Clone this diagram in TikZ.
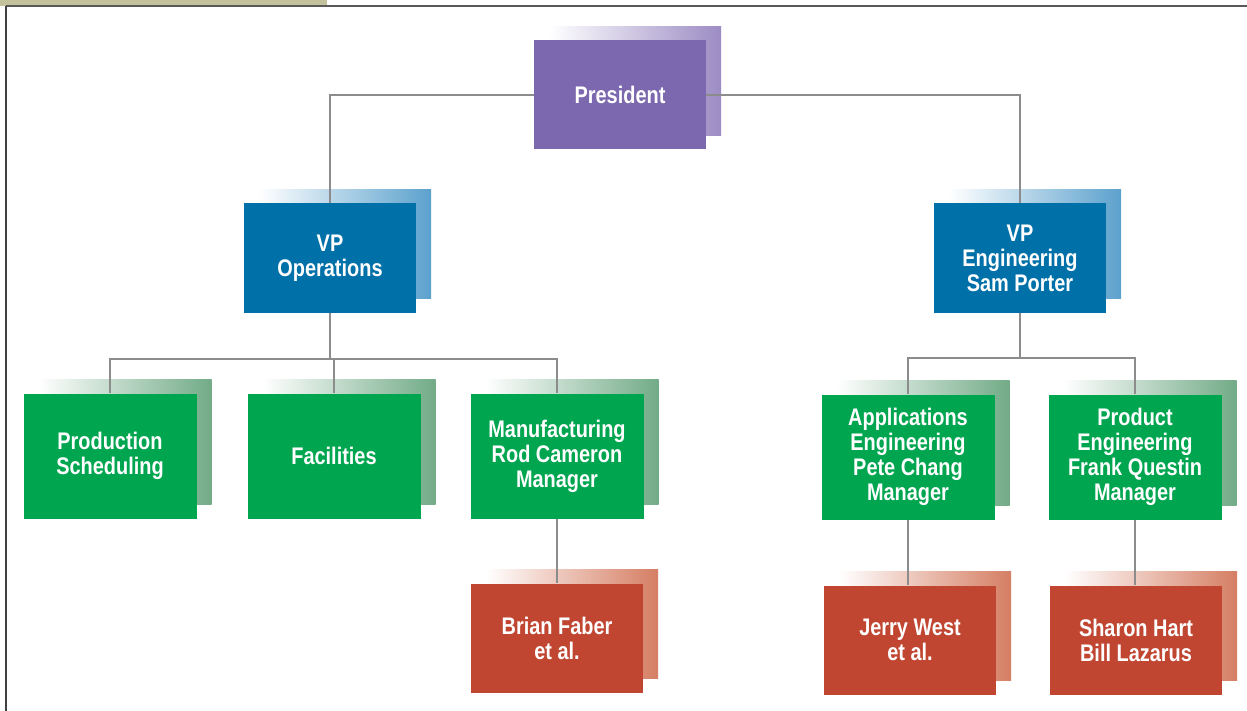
\documentclass[tikz,border=0pt]{standalone}
\usepackage{fontspec}
\newfontfamily\orgfont{Liberation Sans}[FakeStretch=0.83]
\usetikzlibrary{positioning, calc, backgrounds}
\definecolor{presfill}{HTML}{7B68AF}
\definecolor{presshade}{HTML}{9C8CC4}
\definecolor{vpfill}{HTML}{0070A8}
\definecolor{vpshade}{HTML}{5BA1CD}
\definecolor{deptfill}{HTML}{00A54F}
\definecolor{deptshade}{HTML}{72AB87}
\definecolor{staffill}{HTML}{C04632}
\definecolor{staffshade}{HTML}{D57E63}
\definecolor{linkgray}{HTML}{8C8C8C}
\definecolor{tabkhaki}{HTML}{C4C29C}

\begin{document}
\begin{tikzpicture}[x=1pt, y=-1pt,
  box/.style={rectangle, minimum width=172pt, minimum height=109pt, inner sep=0pt,
              align=center, text=white,
              font=\orgfont\bfseries\fontsize{24pt}{25pt}\selectfont},
  tall/.style={box, minimum width=173pt, minimum height=125pt},
  link/.style={draw=linkgray, line width=2.2pt}
]
  \useasboundingbox (0,0) rectangle (1247,711);

  % frame
  \fill[tabkhaki] (0,0) rectangle (327,6);
  \draw[gray!70!black, line width=2pt] (6,6) -- (1247,6);
  \draw[black!75, line width=1.5pt] (6,6) -- (6,711);

  % boxes
  \node[box, fill=presfill] (pres) at (620,95) {President};
  \node[box, fill=vpfill] (vpops) at (330,258) {VP\\Operations};
  \node[box, fill=vpfill] (vpeng) at (1020,258) {VP\\Engineering\\Sam Porter};
  \node[tall, fill=deptfill] (prod) at (110,456) {Production\\Scheduling};
  \node[tall, fill=deptfill] (fac)  at (334,456) {Facilities};
  \node[tall, fill=deptfill] (mfg)  at (557,456) {Manufacturing\\Rod Cameron\\Manager};
  \node[tall, fill=deptfill] (appl) at (908,457) {Applications\\Engineering\\Pete Chang\\Manager};
  \node[tall, fill=deptfill] (prodeng) at (1135,457) {Product\\Engineering\\Frank Questin\\Manager};
  \node[box, fill=staffill] (faber) at (557,638) {Brian Faber\\et al.};
  \node[box, fill=staffill] (west)  at (910,640) {Jerry West\\et al.};
  \node[box, fill=staffill] (hart)  at (1136,640) {Sharon Hart\\Bill Lazarus};

  % shadows
  \begin{scope}[on background layer]
    \fill[white] (0,0) rectangle (1247,711);
    \fill[tabkhaki] (0,0) rectangle (327,6);
    \foreach \n/\c in {pres/presshade, vpops/vpshade, vpeng/vpshade,
                       prod/deptshade, fac/deptshade, mfg/deptshade,
                       appl/deptshade, prodeng/deptshade,
                       faber/staffshade, west/staffshade, hart/staffshade}
      \shade[left color=white, right color=\c]
        ($(\n.south west)+(15pt,14pt)$) rectangle ($(\n.north east)+(15pt,14pt)$);
  \end{scope}

  % connectors
  \draw[link] (pres.west) -| (vpops.north);
  \draw[link] (pres.east) -| (vpeng.north);
  \foreach \c in {prod,fac,mfg}
    \draw[link] (vpops.south) -- ++(0,46) -| (\c.north);
  \foreach \c in {appl,prodeng}
    \draw[link] (vpeng.south) -- ++(0,45) -| (\c.north);
  \draw[link] (mfg) -- (faber);
  \draw[link] (appl.south) -- (appl.south |- west.north);
  \draw[link] (prodeng.south) -- (prodeng.south |- hart.north);
\end{tikzpicture}
\end{document}
